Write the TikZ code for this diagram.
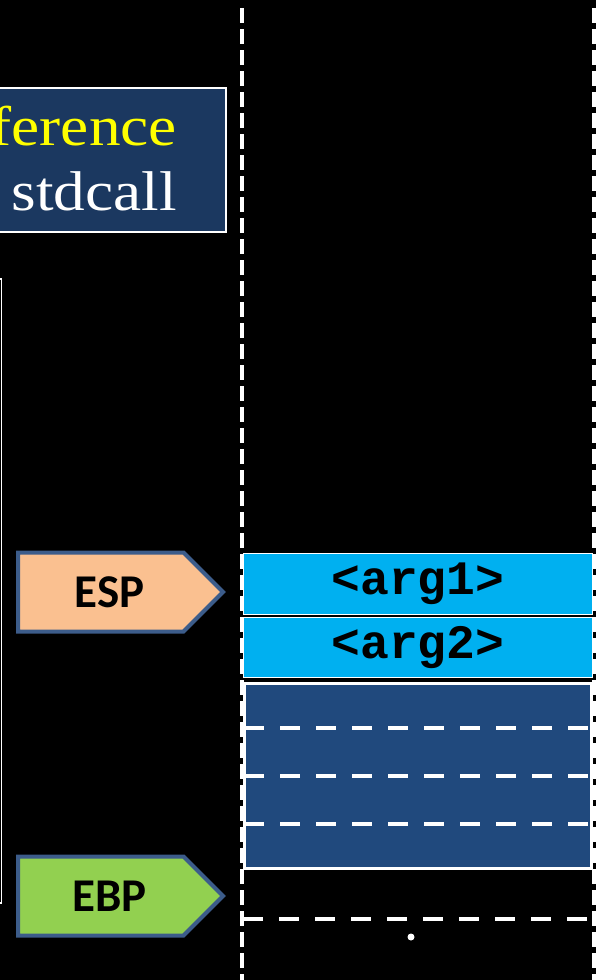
\documentclass[tikz,border=0pt]{standalone}
\usepackage{fontspec}
\newfontfamily\calib{Carlito}
\newfontfamily\monob{Liberation Mono}
\newfontfamily\ttlserif[FakeStretch=1.13]{Liberation Serif}
\usetikzlibrary{shapes.symbols,positioning}
\definecolor{titlenavy}{RGB}{27,56,96}
\definecolor{ptrline}{RGB}{60,92,138}
\definecolor{espfill}{RGB}{250,192,144}
\definecolor{ebpfill}{RGB}{146,208,80}
\definecolor{argblue}{RGB}{0,176,240}
\definecolor{framenavy}{RGB}{32,73,125}
\definecolor{titleyellow}{RGB}{255,255,0}

\begin{document}
\begin{tikzpicture}[x=1pt, y=-1pt,
  guide/.style={white, line width=4.5pt, dash pattern=on 15pt off 6pt},
  sep/.style={white, line width=4pt, dash pattern=on 20pt off 16pt},
  ptr/.style={signal, signal to=east, signal pointer angle=90, draw=ptrline, line width=4pt,
    minimum width=205pt, minimum height=79pt, inner sep=0pt, anchor=west,
    font=\calib\bfseries\fontsize{47}{52}\selectfont},
  slot/.style={draw=white, line width=1.5pt, fill=argblue, minimum width=349pt,
    minimum height=61pt, inner sep=0pt, font=\monob\bfseries\fontsize{48}{52}\selectfont},
  ttl/.style={anchor=base east, inner sep=0pt, font=\ttlserif\fontsize{56}{62}\selectfont},
]
\fill[black] (0,0) rectangle (596,980);
\useasboundingbox (0,0) rectangle (596,980);

% title box, cut at the left
\draw[white, line width=1.5pt, fill=titlenavy] (-10,88) rectangle (226,232);
\node[ttl, titleyellow] (ttl1) at (177,145) {ference};
\node[ttl, white] (ttl2) at (177,210) {stdcall};

% frame edge on the left
\draw[white, line width=1.5pt] (-5,279) -- (1.5,279) -- (1.5,903) -- (-5,903);

% stack borders
\draw[guide] (242,8) -- (242,980);
\draw[guide] (594,8) -- (594,980);

% stack slots
\node[slot] (arg1) at (418,584) {<arg1>};
\node[slot, minimum height=60pt] (arg2) at (418,647.5) {<arg2>};
\node[draw=white, line width=3pt, fill=framenavy, minimum width=347pt,
  minimum height=185pt, inner sep=0pt] (frame) at (418,776) {};
\draw[sep] (244,728) -- (591,728);
\draw[sep] (244,776) -- (591,776);
\draw[sep] (244,824) -- (591,824);
\draw[sep] (243,919) -- (593,919);
\fill[white] (411,937) circle (3.5pt);

% registers
\node[ptr, fill=espfill] (esp) at (16,592) {\hspace*{18pt}\raisebox{-2pt}{ESP}};
\node[ptr, fill=ebpfill] (ebp) at (16,896) {\hspace*{18pt}\raisebox{-2pt}{EBP}};
\end{tikzpicture}
\end{document}
